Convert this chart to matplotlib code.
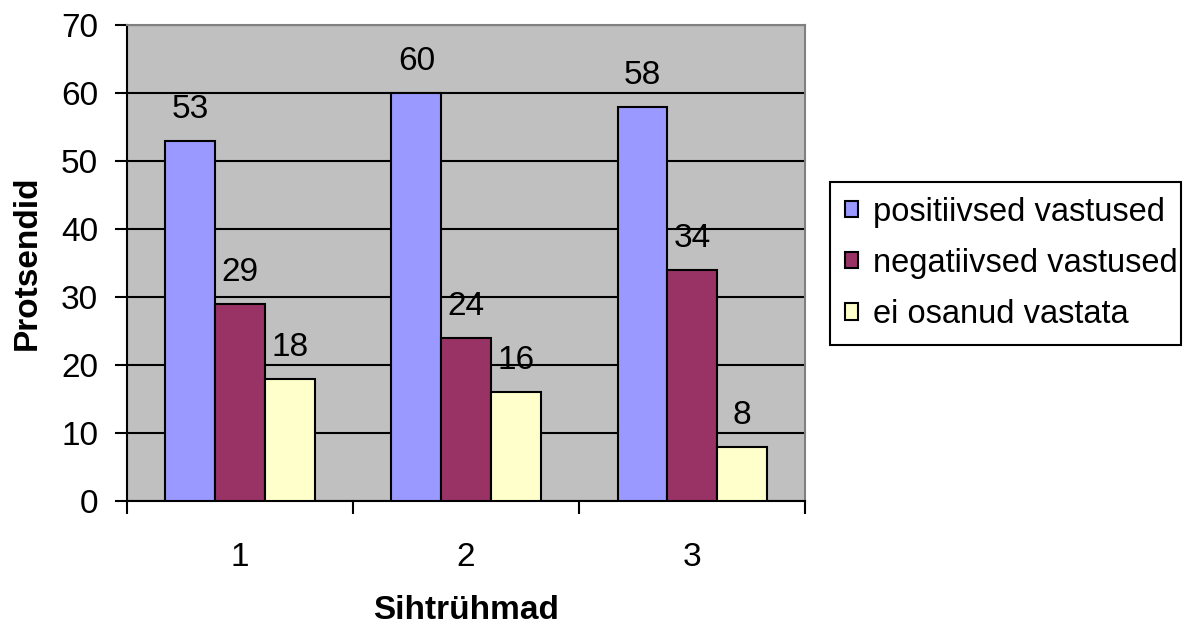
import numpy as np
import matplotlib.pyplot as plt
from matplotlib.ticker import FixedLocator

groups = ["1", "2", "3"]
series_names = ["positiivsed vastused", "negatiivsed vastused", "ei osanud vastata"]
positive = [53, 60, 58]
negative = [29, 24, 34]
no_answer = [18, 16, 8]

colors = ["#9999FF", "#993366", "#FFFFCC"]

plt.rcParams['font.family'] = ['Liberation Sans', 'DejaVu Sans']
FS = 24

fig = plt.figure(figsize=(11.86, 6.25), dpi=100)
ax = fig.add_axes([0.107, 0.198, 0.572, 0.762])
ax.set_facecolor("#C0C0C0")

x = np.arange(len(groups))
w = 0.22
for i, (vals, name, c) in enumerate(zip([positive, negative, no_answer], series_names, colors)):
    bars = ax.bar(x + (i - 1) * w, vals, w, color=c, edgecolor="black", linewidth=1.5,
                  label=name, zorder=3)
    for b, v in zip(bars, vals):
        ax.annotate(str(v), (b.get_x() + b.get_width() / 2, v), xytext=(0, 16.5),
                    textcoords="offset points", ha="center", va="baseline", fontsize=FS)

ax.set_xlim(-0.5, len(groups) - 0.5)
ax.set_ylim(0, 70)
ax.set_yticks(range(0, 71, 10))
ax.yaxis.grid(True, color="black", linewidth=1.5, zorder=1)
ax.set_axisbelow(True)

ax.set_xticks(x)
ax.set_xticklabels(groups)
ax.xaxis.set_minor_locator(FixedLocator(np.arange(-0.5, len(groups), 1.0)))
ax.tick_params(axis="x", which="major", length=0, pad=29, labelsize=FS)
ax.tick_params(axis="x", which="minor", length=9, width=1.5, direction="out")
ax.tick_params(axis="y", length=8.6, width=1.5, direction="out", labelsize=FS, pad=12)

for s in ["top", "right"]:
    ax.spines[s].set_color("#808080")
    ax.spines[s].set_linewidth(1.5)
for s in ["left", "bottom"]:
    ax.spines[s].set_linewidth(1.5)

ax.set_xlabel("Sihtrühmad", fontsize=FS, fontweight="bold", labelpad=16)
ax.set_ylabel("Protsendid", fontsize=FS, fontweight="bold", labelpad=13)

# legend box fixed to the reference position (in figure coords)
leg = ax.legend(loc="upper left", bbox_to_anchor=(0.700, 0.453, 0.296, 0.256),
                bbox_transform=fig.transFigure, mode="expand",
                fontsize=23.5, frameon=True, fancybox=False, edgecolor="black",
                handlelength=0.4, handleheight=0.4, handletextpad=0.45, borderpad=0.45,
                labelspacing=0.62, borderaxespad=0, framealpha=1)
leg.get_frame().set_linewidth(1.5)

fig.savefig("out.png", dpi=100, facecolor="white")
